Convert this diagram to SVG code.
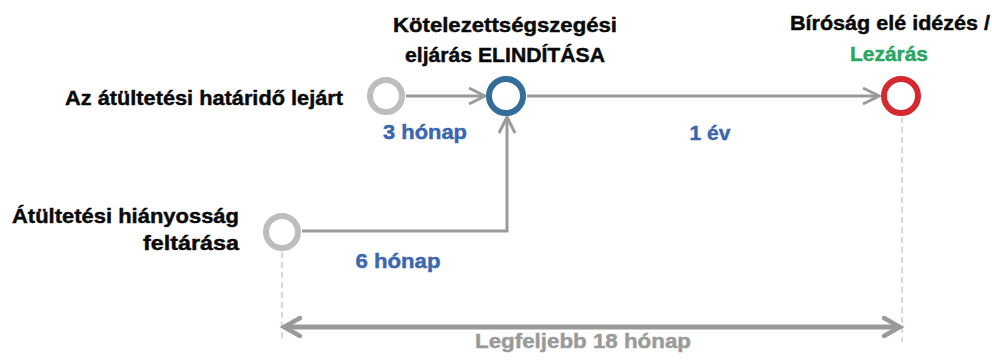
<svg xmlns="http://www.w3.org/2000/svg" width="992" height="360" viewBox="0 0 992 360">
<defs>
<style>
.t{font-family:"Liberation Sans",Arial,sans-serif;font-weight:bold;font-size:20.5px;fill:#0a0a0a;stroke:#0a0a0a;stroke-width:0.45px}
.b{fill:#3b67ae;stroke:#3b67ae}
.g{fill:#2aa65f;stroke:#2aa65f}
.gr{fill:#9a9a9a;stroke:#9a9a9a}
.ln{stroke:#9a9a9a;stroke-width:3;fill:none}
.dash{stroke:#cfcfcf;stroke-width:1.6;stroke-dasharray:6 4;fill:none}
.node{fill:#fff;stroke-width:6}
</style>
<marker id="ah" markerUnits="userSpaceOnUse" markerWidth="24" markerHeight="24" refX="20" refY="12" orient="auto">
<path d="M4,4 L20,12 L4,20" fill="none" stroke="#9a9a9a" stroke-width="3" stroke-linejoin="miter"/>
</marker>
<marker id="ah2" markerUnits="userSpaceOnUse" markerWidth="26" markerHeight="26" refX="21" refY="13" orient="auto-start-reverse">
<path d="M5,4 L21,13 L5,22" fill="none" stroke="#9a9a9a" stroke-width="4.5" stroke-linecap="round"/>
</marker>
</defs>

<g id="guides">
<line class="dash" x1="282" y1="252" x2="282" y2="342"/>
<line class="dash" x1="902" y1="117" x2="902" y2="342"/>
</g>

<g id="connectors">
<line class="ln" x1="406" y1="96" x2="485" y2="96" marker-end="url(#ah)"/>
<line class="ln" x1="527" y1="96" x2="879" y2="96" marker-end="url(#ah)"/>
<polyline class="ln" points="302,231 507,231 507,117" marker-end="url(#ah)"/>
<line x1="284" y1="327" x2="900" y2="327" stroke="#9a9a9a" stroke-width="5" marker-start="url(#ah2)" marker-end="url(#ah2)"/>
</g>

<g id="node-hatarido">
<circle class="node" cx="386" cy="96" r="16" stroke="#bdbdbd"/>
<text class="t" x="343" y="105" text-anchor="end" textLength="278" lengthAdjust="spacingAndGlyphs">Az átültetési határidő lejárt</text>
</g>

<g id="node-hianyossag">
<circle class="node" cx="282" cy="232" r="16" stroke="#bdbdbd"/>
<text class="t" x="239" y="223" text-anchor="end" textLength="227" lengthAdjust="spacingAndGlyphs">Átültetési hiányosság</text>
<text class="t" x="239" y="250" text-anchor="end" textLength="96" lengthAdjust="spacingAndGlyphs">feltárása</text>
</g>

<g id="node-elinditas">
<circle class="node" cx="506" cy="96" r="17" stroke="#336d99"/>
<text class="t" x="505" y="32" text-anchor="middle" textLength="224" lengthAdjust="spacingAndGlyphs">Kötelezettségszegési</text>
<text class="t" x="505" y="62" text-anchor="middle" textLength="200" lengthAdjust="spacingAndGlyphs">eljárás ELINDÍTÁSA</text>
</g>

<g id="node-birosag">
<circle class="node" cx="901" cy="96" r="17" stroke="#d5282f"/>
<text class="t" x="890" y="30" text-anchor="middle" textLength="200" lengthAdjust="spacingAndGlyphs">Bíróság elé idézés /</text>
<text class="t g" x="889" y="61" text-anchor="middle" textLength="78" lengthAdjust="spacingAndGlyphs">Lezárás</text>
</g>

<g id="labels">
<text class="t b" x="425" y="139" text-anchor="middle" textLength="84" lengthAdjust="spacingAndGlyphs">3 hónap</text>
<text class="t b" x="710" y="140" text-anchor="middle" textLength="41" lengthAdjust="spacingAndGlyphs">1 év</text>
<text class="t b" x="398" y="268" text-anchor="middle" textLength="85" lengthAdjust="spacingAndGlyphs">6 hónap</text>
<text class="t gr" x="583" y="348" text-anchor="middle" textLength="216" lengthAdjust="spacingAndGlyphs">Legfeljebb 18 hónap</text>
</g>
</svg>
